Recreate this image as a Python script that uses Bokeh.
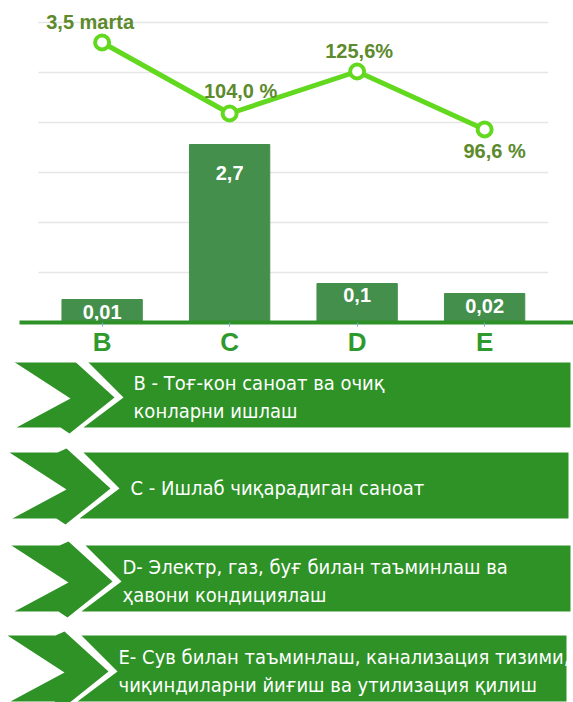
from bokeh.plotting import figure
from bokeh.models import Range1d, FixedTicker, ColumnDataSource
from bokeh.layouts import column
from bokeh.core.properties import value
from bokeh.embed import file_html
from bokeh.resources import INLINE

# ---------------- data ----------------
categories = ["B", "C", "D", "E"]
bar_heights = [0.46, 3.56, 0.78, 0.58]          # bar heights as drawn (gridline units)
bar_labels = ["0,01", "2,7", "0,1", "0,02"]
growth_values = [5.6, 4.18, 5.02, 3.86]          # line heights as drawn (gridline units)
growth_labels = ["3,5 marta", "104,0 %", "125,6%", "96,6 %"]
gridline_values = [1, 2, 3, 4, 5, 6]
descriptions = [
    ["B - Тоғ-кон саноат ва очиқ", "конларни ишлаш"],
    ["C - Ишлаб чиқарадиган саноат"],
    ["D- Электр, газ, буғ билан таъминлаш ва", "ҳавони кондициялаш"],
    ["E- Сув билан таъминлаш, канализация тизими,", "чиқиндиларни йиғиш ва утилизация қилиш"],
]

# ---------------- style ----------------
BAR_COLOR = "#448f4c"
LINE_COLOR = "#62d81f"
LABEL_COLOR = "#5c8a2c"
AXIS_COLOR = "#2e9128"
CAT_COLOR = "#2e9a2e"
BANNER_COLOR = "#2e9226"
GRID_COLOR = "#e6e6e6"
growth_dx = [-12, 11, 2, 10]
growth_dy = [-21, -23, -21, 21]
bar_label_dy = [12, 28, 11, 12]

idx = list(range(len(categories)))

# ---------------- top chart ----------------
top_h = 362
X0, X1 = -0.797, 3.697
p = figure(width=573, height=top_h, x_range=Range1d(X0, X1), y_range=Range1d(0, 6.44),
           output_backend="svg", toolbar_location=None, y_axis_location=None,
           min_border_left=0, min_border_right=0, min_border_top=0, min_border_bottom=40)
p.xgrid.visible = False
p.ygrid.visible = False
p.outline_line_color = None

p.segment(x0=[-0.5] * len(gridline_values), x1=[len(categories) - 0.5] * len(gridline_values),
          y0=gridline_values, y1=gridline_values, line_color=GRID_COLOR, line_width=1.5)

src = ColumnDataSource(dict(x=idx, h=bar_heights, bl=bar_labels, g=growth_values, gl=growth_labels,
                            gdx=growth_dx, gdy=growth_dy, bdy=bar_label_dy))

p.vbar(x="x", top="h", width=0.63, bottom=0, source=src, fill_color=BAR_COLOR, line_color=BAR_COLOR)
p.text(x="x", y="h", text="bl", y_offset="bdy", source=src, text_color="white",
       text_font=value("Liberation Sans"), text_font_style="bold", text_font_size="20px",
       text_align="center", text_baseline="middle")

p.line(x="x", y="g", source=src, line_color=LINE_COLOR, line_width=5)
p.scatter(x="x", y="g", source=src, size=14, fill_color="white", line_color=LINE_COLOR, line_width=4)
p.text(x="x", y="g", text="gl", x_offset="gdx", y_offset="gdy", source=src, text_color=LABEL_COLOR,
       text_font=value("Liberation Sans"), text_font_style="bold", text_font_size="20px",
       text_align="center", text_baseline="middle")

ax = p.xaxis[0]
ax.ticker = FixedTicker(ticks=idx)
ax.bounds = (-0.648, X1)
ax.major_label_overrides = {i: c for i, c in zip(idx, categories)}
ax.axis_line_color = AXIS_COLOR
ax.axis_line_width = 4
ax.major_tick_line_color = "#6fa8dc"
ax.major_tick_line_width = 1
ax.major_tick_in = 0
ax.major_tick_out = 4
ax.minor_tick_line_color = None
ax.major_label_text_font = "Liberation Sans"
ax.major_label_text_font_style = "bold"
ax.major_label_text_font_size = "26px"
ax.major_label_text_color = CAT_COLOR
ax.major_label_standoff = 0

# ---------------- banners ----------------
p2 = figure(width=573, height=702 - top_h, x_range=Range1d(0, 573), y_range=Range1d(702, top_h),
            output_backend="svg", toolbar_location=None, x_axis_location=None, y_axis_location=None,
            min_border=0)
p2.xgrid.visible = False
p2.ygrid.visible = False
p2.outline_line_color = None

banner_top = [361, 452, 545, 635]
banner_left = [13, 9, 11, 7]
banner_right = [570, 568, 570, 566]
banner_text_x = [133, 130, 122, 118]
H = 66

xs, ys = [], []
tx, ty, tt = [], [], []
for T, L, R, txx, lines in zip(banner_top, banner_left, banner_right, banner_text_x, descriptions):
    # left chevron piece
    xs.append([L, L + 48, L + 57, L + 101, L + 56, L + 47, L + 3, L + 57])
    ys.append([T, T, T - 4, T + 36, T + H + 6, T + H, T + H, T + 37])
    # main body
    xs.append([L + 74, R, R, L + 70, L + 110])
    ys.append([T, T, T + H, T + H, T + 36])
    if len(lines) == 1:
        tx.append(txx); ty.append(T + 35); tt.append(lines[0])
    else:
        for k, ln in enumerate(lines):
            tx.append(txx); ty.append(T + 21 + 28 * k); tt.append(ln)

p2.patches(xs=xs, ys=ys, fill_color=BANNER_COLOR, line_color=None)
p2.text(x=tx, y=ty, text=tt, text_color="white", text_font=value("DejaVu Sans Condensed"),
        text_font_size="20px", text_align="left", text_baseline="middle")

layout = column(p, p2, spacing=0)
open("out.html", "w").write(file_html(layout, INLINE))
